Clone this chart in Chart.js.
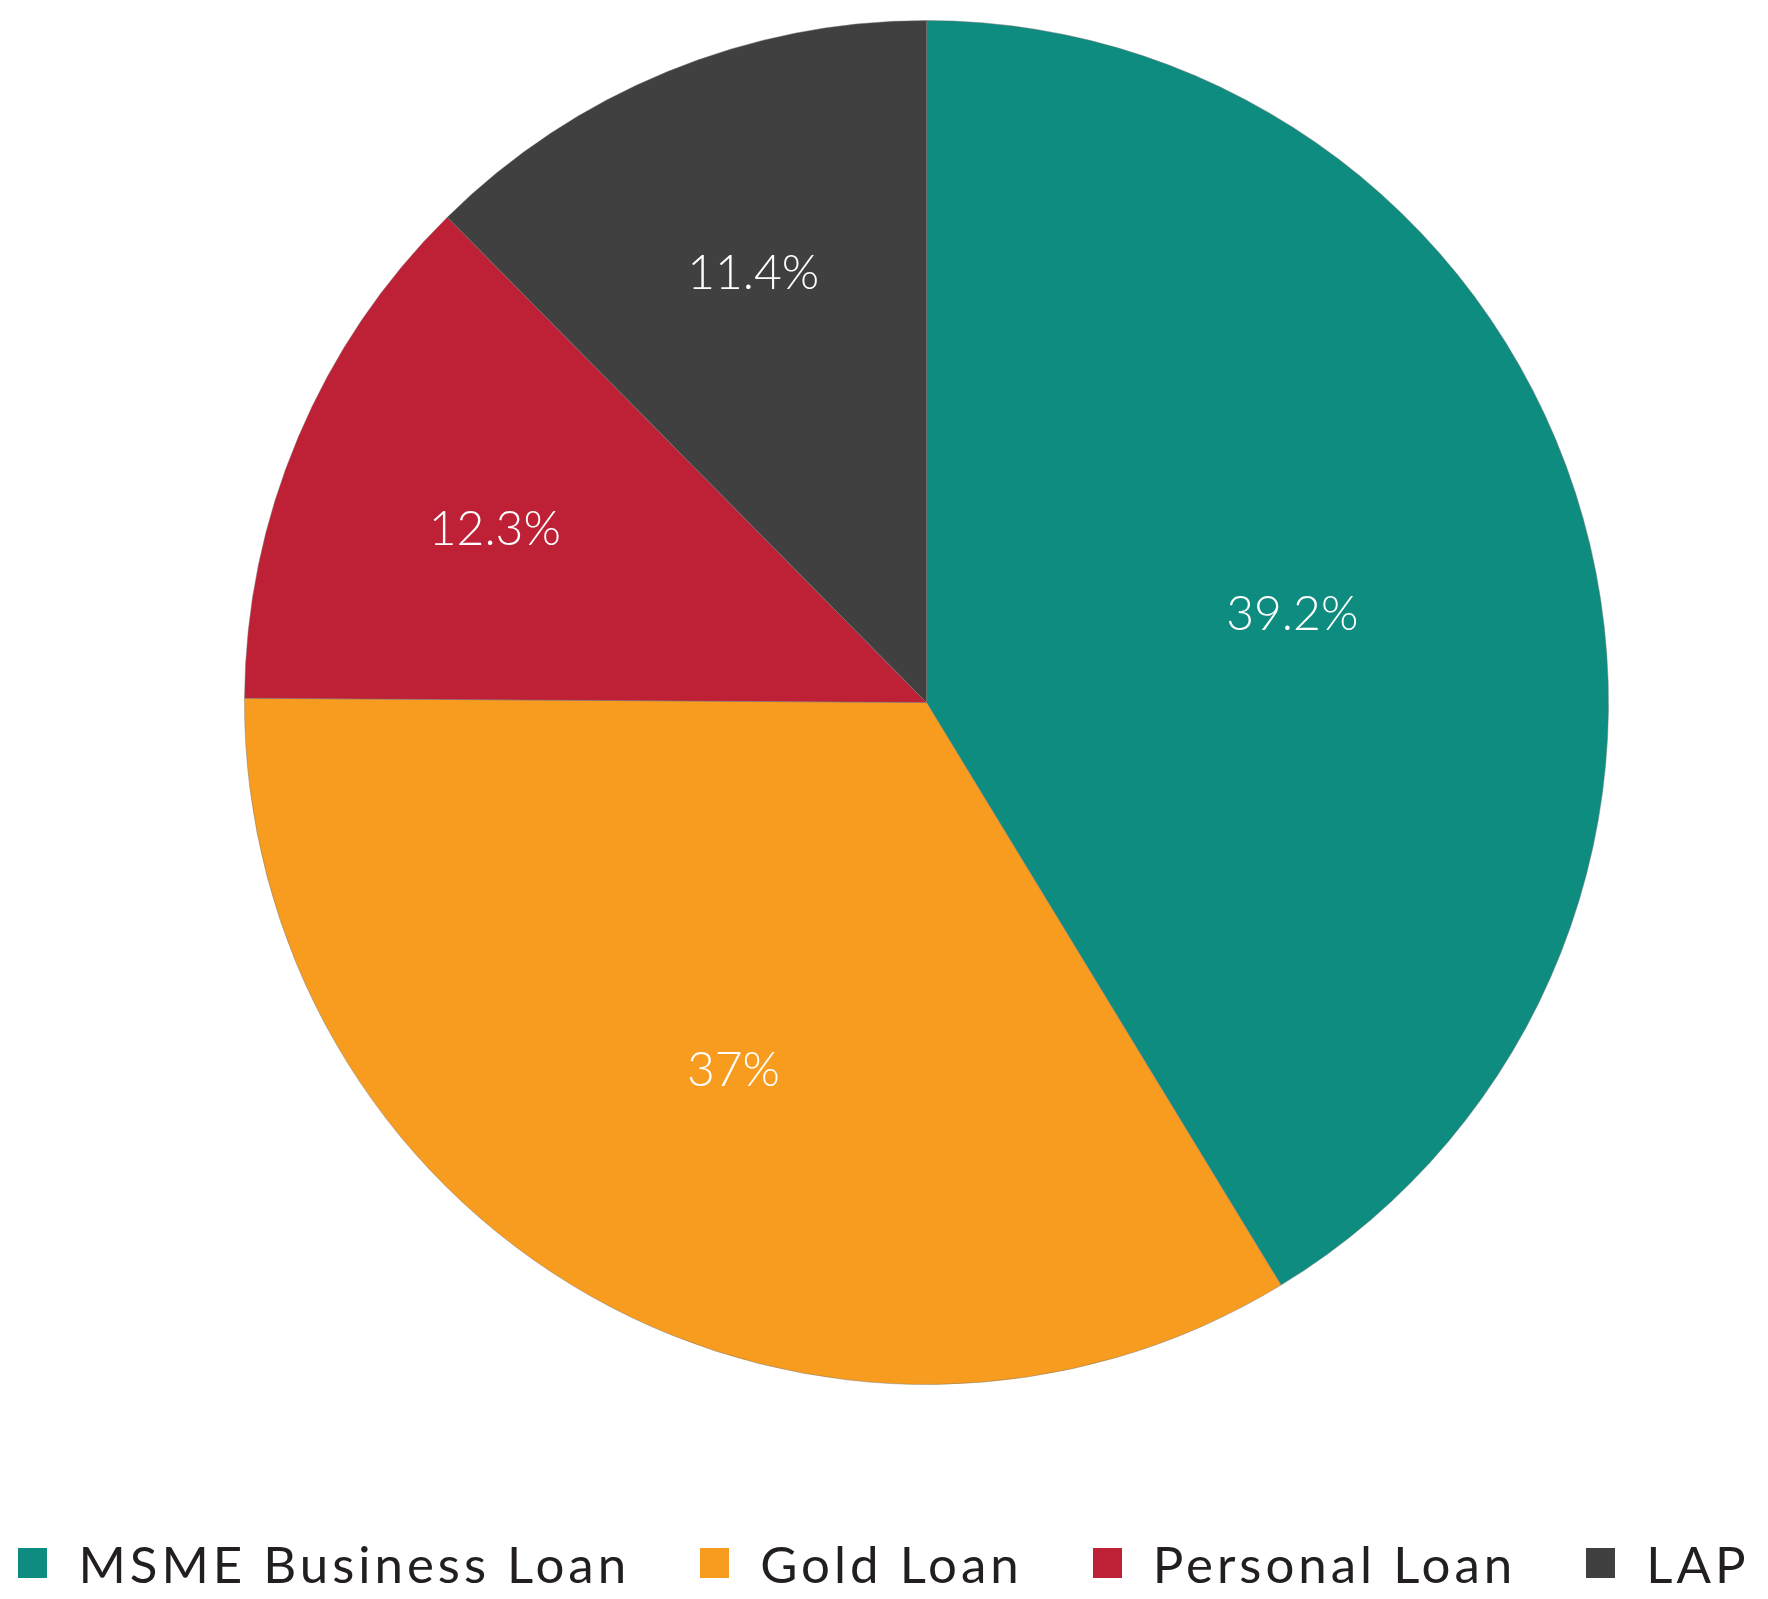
<!DOCTYPE html>
<html>
<head>
<meta charset="utf-8">
<script src="https://cdn.jsdelivr.net/npm/chart.js@4.4.1/dist/chart.umd.min.js"></script>
<style>
  html, body { margin: 0; padding: 0; background: #fff; }
  #wrap { position: relative; width: 1768px; height: 1599px; overflow: hidden; }
  #box { position: absolute; left: 0; top: 0; width: 1768px; height: 1400px; }
  #legend {
    position: absolute; left: 0; top: 1533px; width: 1768px; height: 60px;
    display: flex; justify-content: center; align-items: center; gap: 70px;
    font-family: Lato, "Open Sans", sans-serif; font-size: 51px; letter-spacing: 4px; color: #231f20;
  }
  #legend .item { display: flex; align-items: center; white-space: nowrap; }
  #legend .sw { width: 29px; height: 30px; margin-right: 31px; }
</style>
</head>
<body>
<div id="wrap">
  <div id="box"><canvas id="pie"></canvas></div>
  <div id="legend"></div>
</div>
<script>
"use strict";

/* ─── DATA ─── */
const categories = ["MSME Business Loan", "Gold Loan", "Personal Loan", "LAP"];
const sliceValues = [41.3, 33.8, 12.5, 12.4];
// labels printed on the slices
const sliceLabels = ["39.2%", "37%", "12.3%", "11.4%"];

/* ─── COLORS ─── */
const sliceColors = ["#0f8c80", "#f79c1f", "#be2036", "#404040"];

/* ─── SLICE LABELS (near the sector centroid) ─── */
const sliceText = {
  id: 'sliceText',
  afterDatasetsDraw(chart) {
    const { ctx } = chart;
    const meta = chart.getDatasetMeta(0);
    const size = 48;
    ctx.save();
    ctx.fillStyle = '#ffffff';
    ctx.font = `300 ${size}px Lato, 'Open Sans', sans-serif`;
    ctx.textAlign = 'center';
    ctx.textBaseline = 'alphabetic';
    meta.data.forEach((arc, i) => {
      const p = arc.getProps(['x', 'y', 'startAngle', 'endAngle', 'outerRadius'], true);
      const half = (p.endAngle - p.startAngle) / 2;
      const mid = p.startAngle + half;
      const r = p.outerRadius * (2 * Math.sin(half) / (3 * half) + 0.05);
      ctx.fillText(sliceLabels[i], p.x + Math.cos(mid) * r + 8, p.y + Math.sin(mid) * r + size * 0.36 + 11);
    });
    ctx.restore();
  }
};

new Chart(document.getElementById('pie'), {
  type: 'pie',
  data: {
    labels: categories,
    datasets: [{
      data: sliceValues,
      backgroundColor: sliceColors,
      borderWidth: 1,
      borderColor: 'rgba(120,120,120,0.45)',
    }]
  },
  options: {
    responsive: true, maintainAspectRatio: false,
    animation: false,
    layout: { padding: { top: 20, bottom: 15, left: 85, right: 0 } },
    plugins: { legend: { display: false }, tooltip: { enabled: false } },
  },
  plugins: [sliceText]
});

/* ─── LEGEND ─── */
const legend = document.getElementById('legend');
categories.forEach((name, i) => {
  const item = document.createElement('div');
  item.className = 'item';
  const sw = document.createElement('span');
  sw.className = 'sw';
  sw.style.background = sliceColors[i];
  item.appendChild(sw);
  item.appendChild(document.createTextNode(name));
  legend.appendChild(item);
});
</script>
</body>
</html>
